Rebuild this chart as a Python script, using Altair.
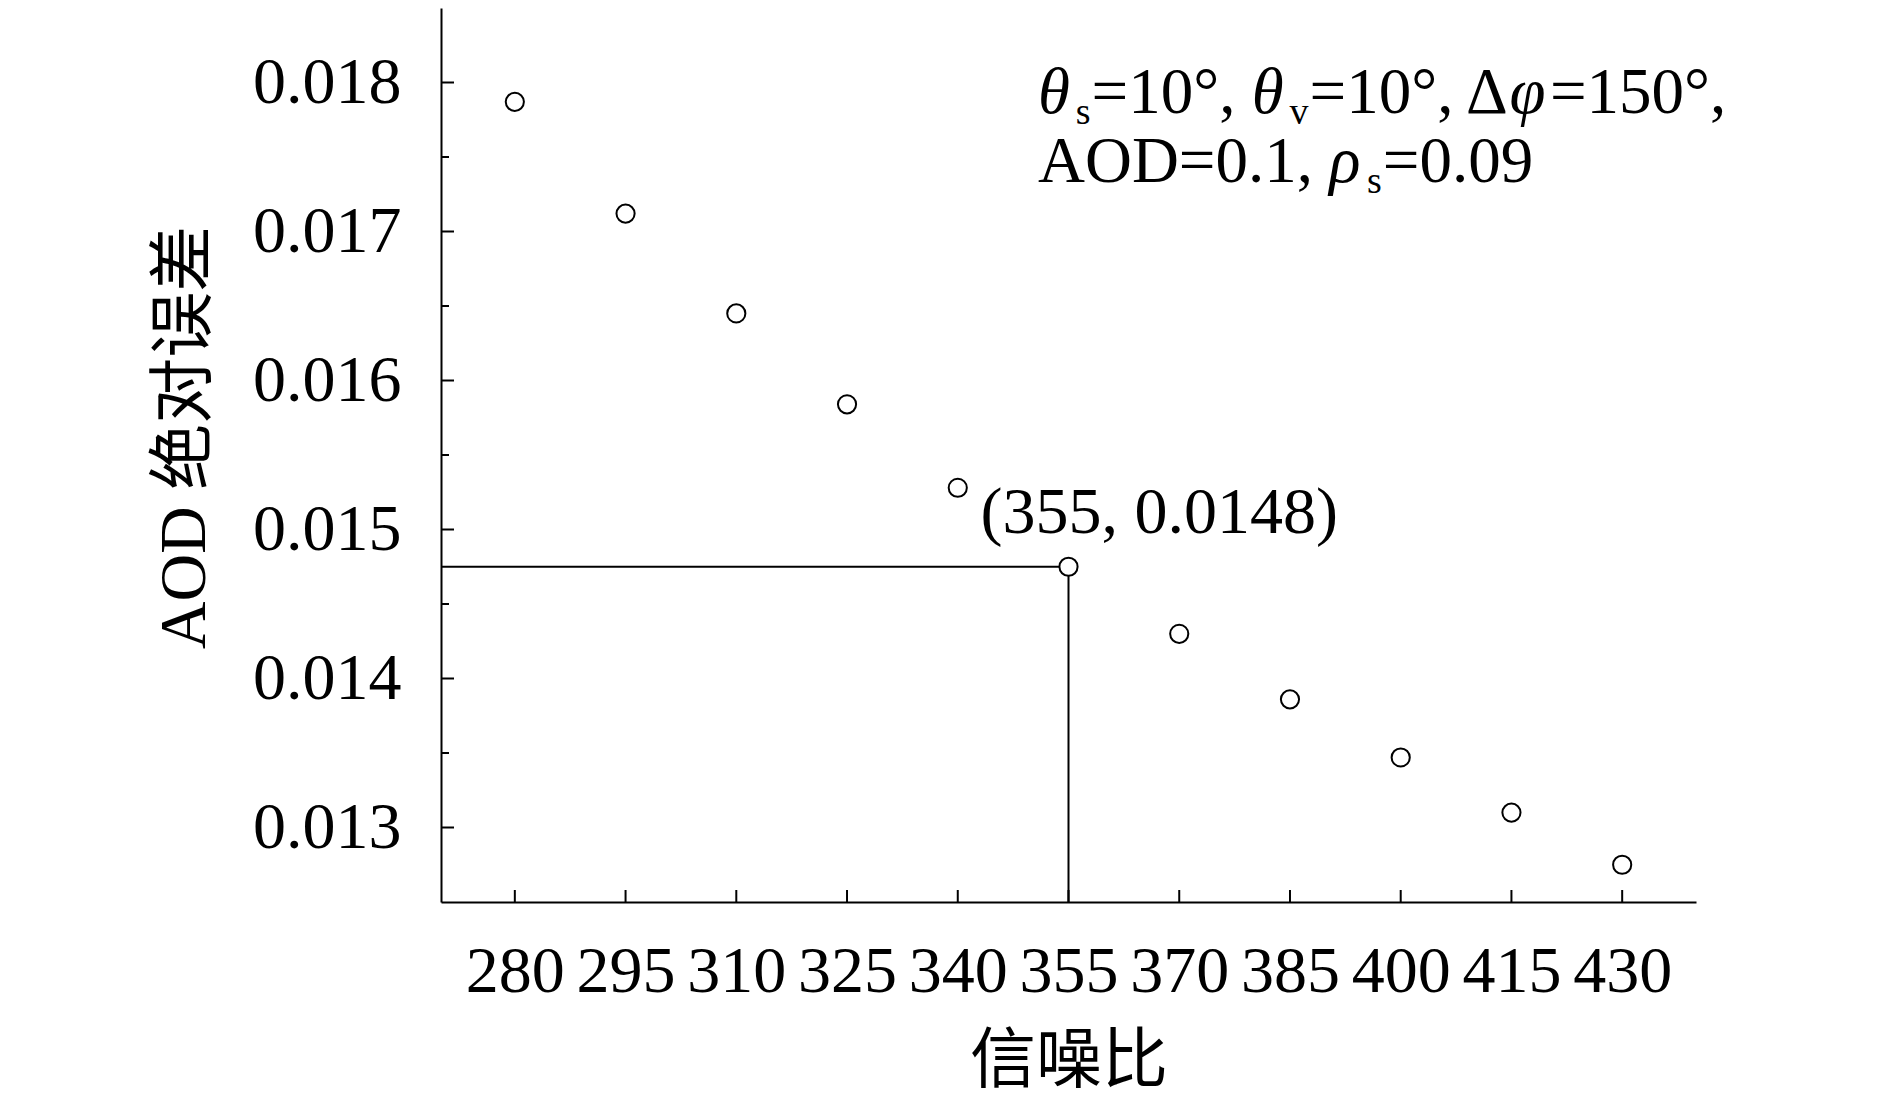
import altair as alt
import pandas as pd

# ---- data ----
snr = [280, 295, 310, 325, 340, 355, 370, 385, 400, 415, 430]
aod_err = [0.01787, 0.01712, 0.01645, 0.01584, 0.01528, 0.01475,
           0.01430, 0.01386, 0.01347, 0.01310, 0.01275]
x_tick_values = [280, 295, 310, 325, 340, 355, 370, 385, 400, 415, 430]
y_major = [0.013, 0.014, 0.015, 0.016, 0.017, 0.018]
y_minor = [0.0135, 0.0145, 0.0155, 0.0165, 0.0175]
x_domain = [270, 440]
y_domain = [0.0125, 0.0185]
mark_x = 355
mark_y = 0.01475
mark_label = "(355, 0.0148)"
x_title = "信噪比"
y_title = "AOD 绝对误差"

# parameter text: (text, style) segments per line
line1 = [("θ", "it"), ("s", "sub"), ("=10°, ", "reg"), ("θ", "it"), ("v", "sub"),
         ("=10°, Δ", "reg"), ("φ", "it"), ("=150°,", "reg")]
line2 = [("AOD=0.1, ", "reg"), ("ρ", "it"), ("s", "sub"), ("=0.09", "reg")]

# ---- styling ----
W, H = 1255, 894
SERIF = "Liberation Serif"
MIXED = "'Liberation Serif', 'Noto Sans CJK SC'"
F_AX = 66
F_TXT = 65
F_SUB = 38

xs = alt.Scale(domain=x_domain, nice=False, zero=False)
ys = alt.Scale(domain=y_domain, nice=False, zero=False)

# approximate advance widths (em) for Liberation Serif
W_REG = {'=': 0.564, '0': 0.5, '1': 0.5, '5': 0.5, '9': 0.5, '°': 0.4, ',': 0.25,
         ' ': 0.25, 'Δ': 0.612, 'A': 0.722, 'O': 0.722, 'D': 0.722, '.': 0.25,
         's': 0.389, 'v': 0.5}
W_IT = {'θ': 0.52, 'φ': 0.56, 'ρ': 0.52}


def seg_width(t, style):
    if style == "it":
        return sum(W_IT.get(c, 0.5) for c in t) * F_TXT + 4
    if style == "sub":
        return sum(W_REG.get(c, 0.5) for c in t) * F_SUB + 1
    return sum(W_REG.get(c, 0.5) for c in t) * F_TXT


x_axis = alt.Axis(values=x_tick_values, format="d", grid=False, ticks=False, tickSize=0,
                  labelFont=SERIF, labelFontSize=F_AX, labelColor="black",
                  labelPadding=89, labelBaseline="alphabetic", labelOverlap=False,
                  labelFlush=False, domainColor="black", domainWidth=2,
                  title=x_title, titleFont=MIXED, titleFontSize=F_AX,
                  titleFontWeight="normal", titleColor="black",
                  titleY=159, titleBaseline="middle")
y_axis = alt.Axis(values=y_major, format=".3f", grid=False, ticks=False, tickSize=0,
                  labelFont=SERIF, labelFontSize=F_AX, labelColor="black",
                  labelPadding=40, labelBaseline="middle", labelOverlap=False,
                  labelFlush=False, domainColor="black", domainWidth=2,
                  title=y_title, titleFont=MIXED, titleFontSize=F_AX,
                  titleFontWeight="normal", titleColor="black",
                  titleAngle=270, titleX=-257, titleY=429,
                  titleAlign="center", titleBaseline="middle")


def X(f):
    return alt.X(f, scale=xs, axis=x_axis)


def Y(f):
    return alt.Y(f, scale=ys, axis=y_axis)


df = pd.DataFrame({"snr": snr, "err": aod_err})

points = alt.Chart(df).mark_point(
    shape="circle", size=330, filled=False, fill="white", fillOpacity=1,
    stroke="black", strokeWidth=2, opacity=1).encode(x=X("snr:Q"), y=Y("err:Q"))

hline = alt.Chart(pd.DataFrame({"snr": [x_domain[0]], "x2": [mark_x], "err": [mark_y]})).mark_rule(
    color="black", strokeWidth=2).encode(x=X("snr:Q"), x2="x2:Q", y=Y("err:Q"))
vline = alt.Chart(pd.DataFrame({"snr": [mark_x], "err": [y_domain[0]], "y2": [mark_y]})).mark_rule(
    color="black", strokeWidth=2).encode(x=X("snr:Q"), y=Y("err:Q"), y2="y2:Q")

ymaj_ticks = alt.Chart(pd.DataFrame({"err": y_major})).mark_rule(color="black", strokeWidth=2).encode(
    y=Y("err:Q"), x=alt.value(0), x2=alt.value(13))
ymin_ticks = alt.Chart(pd.DataFrame({"err": y_minor})).mark_rule(color="black", strokeWidth=2).encode(
    y=Y("err:Q"), x=alt.value(0), x2=alt.value(8))
x_ticks = alt.Chart(pd.DataFrame({"snr": x_tick_values})).mark_rule(color="black", strokeWidth=2).encode(
    x=X("snr:Q"), y=alt.value(H), y2=alt.value(H - 12))

label = alt.Chart(pd.DataFrame({"snr": [mark_x], "err": [mark_y], "t": [mark_label]})).mark_text(
    font=SERIF, fontSize=66, color="black", align="left", baseline="alphabetic",
    dx=-88, dy=-34).encode(x=X("snr:Q"), y=Y("err:Q"), text="t:N")

layers = [hline, vline, ymaj_ticks, ymin_ticks, x_ticks, points, label]

X0 = 597
for line, base in ((line1, 105), (line2, 174)):
    px = X0
    for t, style in line:
        txt = t.rstrip()
        if style == "sub":
            mk = alt.Chart(pd.DataFrame({"t": [txt]})).mark_text(
                font=SERIF, fontSize=F_SUB, color="black", align="left", baseline="alphabetic")
            py = base + 11
        elif style == "it":
            mk = alt.Chart(pd.DataFrame({"t": [txt]})).mark_text(
                font=SERIF, fontSize=F_TXT, fontStyle="italic", color="black",
                align="left", baseline="alphabetic")
            py = base
        else:
            mk = alt.Chart(pd.DataFrame({"t": [txt]})).mark_text(
                font=SERIF, fontSize=F_TXT, color="black", align="left", baseline="alphabetic")
            py = base
        layers.append(mk.encode(text="t:N", x=alt.value(px), y=alt.value(py)))
        px += seg_width(t, style)

chart = alt.layer(*layers).properties(
    width=W, height=H,
    autosize=alt.AutoSizeParams(type="none"),
    padding={"left": 433, "top": 0, "right": 150, "bottom": 186},
    background="white",
).configure_view(stroke=None)

chart.save("out.html", embed_options={"renderer": "svg", "actions": False})
